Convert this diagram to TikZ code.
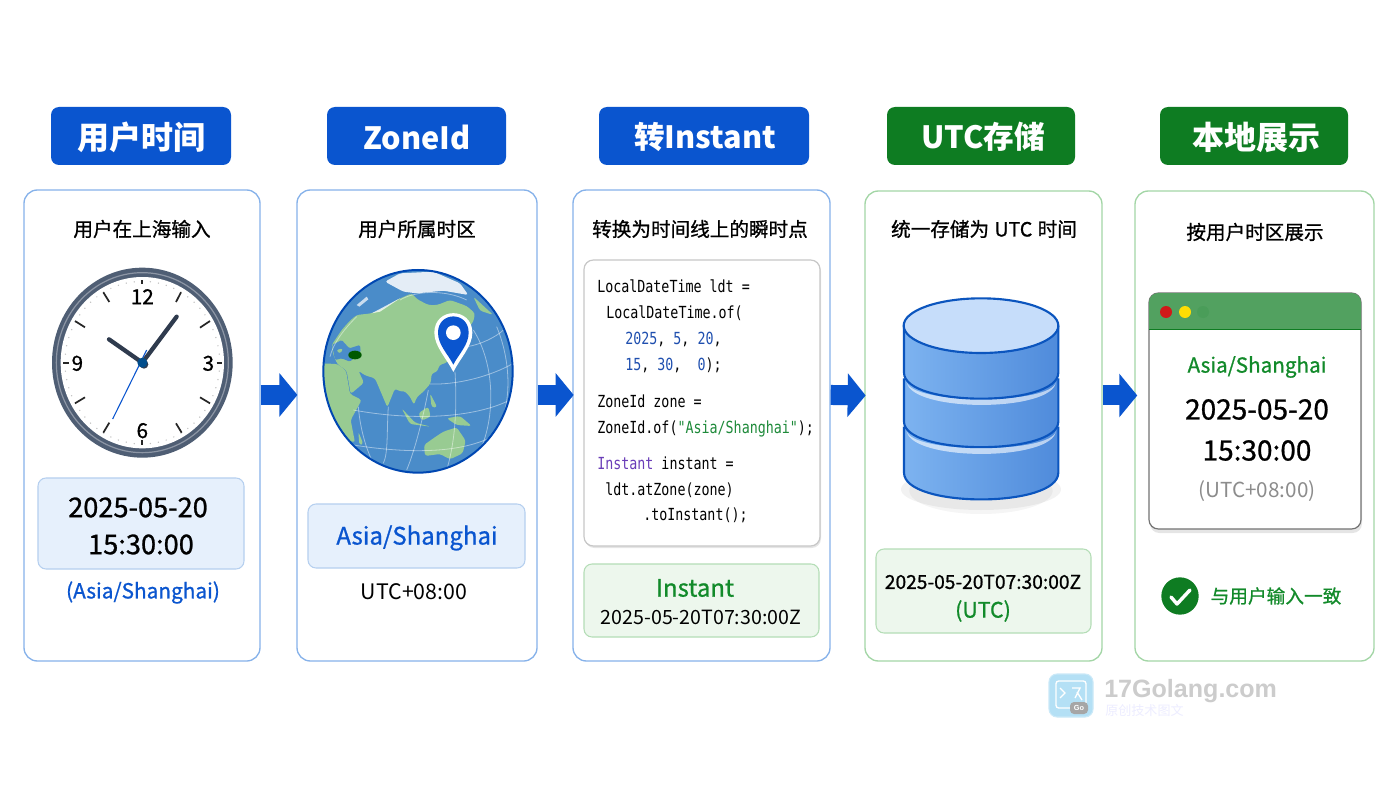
\documentclass[tikz,border=0pt]{standalone}
\usepackage{fontspec}
\setmainfont{Noto Sans CJK SC}
\newfontfamily\medfont[FakeBold=.9]{Noto Sans CJK SC}
\newfontfamily\codefont[FakeStretch=.8]{DejaVu Sans Mono}
\newfontfamily\wmfont{Liberation Sans}
\usetikzlibrary{arrows.meta,fit,shapes.geometric}
\newcommand\fz[1]{\fontsize{#1}{#1}\selectfont}
\definecolor{hblue}{HTML}{0A55CF}
\definecolor{hgreen}{HTML}{0E7C22}
\definecolor{pblue}{HTML}{86B2EA}
\definecolor{pgreen}{HTML}{A3D6A6}
\definecolor{tintb}{HTML}{E6F0FC}
\definecolor{tintbb}{HTML}{B5CFEF}
\definecolor{tintg}{HTML}{EDF7ED}
\definecolor{tintgb}{HTML}{B4DDB6}
\definecolor{ocean}{HTML}{4A8CC9}
\definecolor{land}{HTML}{98CB92}
\definecolor{ring}{HTML}{4F5E74}
\definecolor{handc}{HTML}{2F3B4E}
\definecolor{codeblue}{HTML}{1F4FAF}
\definecolor{codepur}{HTML}{6A3DB8}
\definecolor{codegrn}{HTML}{1E8A3A}
\definecolor{txtgreen}{HTML}{128A2A}
\definecolor{dbleft}{HTML}{7DB3F0}
\definecolor{dbmid}{HTML}{6BA4EA}
\definecolor{dbright}{HTML}{4F8BDB}
\definecolor{dbtop}{HTML}{C6DDFA}
\definecolor{dbline}{HTML}{0B55BE}
\definecolor{wmfill}{HTML}{B4E0F5}
\definecolor{wmedge}{HTML}{CBE9F8}
\tikzset{
  headbl/.style={rectangle,rounded corners=6pt,fill=hblue,inner sep=0pt},
  headgr/.style={rectangle,rounded corners=6pt,fill=hgreen,inner sep=0pt},
  headtxt/.style={inner sep=0pt,text=white,font=\bfseries\fz{24}},
  headlat/.style={inner sep=0pt,text=white,font=\bfseries\fz{23}},
  panelbl/.style={rectangle,rounded corners=10pt,draw=pblue,line width=1pt,fill=white,inner sep=0pt},
  panelgr/.style={rectangle,rounded corners=10pt,draw=pgreen,line width=1pt,fill=white,inner sep=0pt},
  tintboxb/.style={rectangle,rounded corners=6pt,draw=tintbb,line width=.8pt,fill=tintb,inner sep=0pt},
  tintboxg/.style={rectangle,rounded corners=6pt,draw=tintgb,line width=.8pt,fill=tintg,inner sep=0pt},
  flowarrow/.style={draw=hblue,line width=15pt,-{Triangle[length=13.5pt,width=32pt,fill=hblue]}},
  captxt/.style={inner sep=0pt,font=\medfont\fz{14.7}},
  codeln/.style={inner sep=0pt,anchor=base west,font=\codefont\fz{12.5}},
  landp/.style={fill=land,rounded corners=2pt},
  gridl/.style={draw=white,opacity=.45,line width=.6pt},
  dbbody/.style={left color=dbleft,middle color=dbmid,right color=dbright},
  dbedge/.style={draw=dbline,line width=1.6pt},
  zoomone/.style={shift={(20,240)},x=.25pt,y=-.25pt},
  zoomtwo/.style={shift={(300,250)},x=.25pt,y=-.25pt},
  zoomfour/.style={shift={(880,280)},x=.25pt,y=-.25pt},
}
\begin{document}
\begin{tikzpicture}[x=.75pt,y=-.75pt]
\useasboundingbox (0,0) rectangle (1400,788);
\fill[white] (0,0) rectangle (1400,788);

% headers
\node[headbl,fit={(51,107)(231,165)}] (h1) {};
\node[headbl,fit={(327,107)(506,165)}] (h2) {};
\node[headbl,fit={(599,107)(809,165)}] (h3) {};
\node[headgr,fit={(887,107)(1075,165)}] (h4) {};
\node[headgr,fit={(1160,107)(1348,165)}] (h5) {};
\node[headtxt] (h1t) at (141,137) {用户时间};
\node[headlat] (h2t) at (417,137) {ZoneId};
\node[headlat] (h3t) at (705,137) {转Instant};
\node[headlat] (h4t) at (983,137) {UTC存储};
\node[headtxt] (h5t) at (1256,137) {本地展示};

% panels
\node[panelbl,fit={(24,190)(260,661)}] (p1) {};
\node[panelbl,fit={(297,190)(537,661)}] (p2) {};
\node[panelbl,fit={(573,190)(830,661)}] (p3) {};
\node[panelgr,fit={(865,191)(1102,661)}] (p4) {};
\node[panelgr,fit={(1135,191)(1374,661)}] (p5) {};
\node[captxt] (c1) at (142,229) {用户在上海输入};
\node[captxt] (c2) at (417,229) {用户所属时区};
\node[captxt] (c3) at (700,229) {转换为时间线上的瞬时点};
\node[captxt] (c4) at (984,229) {统一存储为\hspace{4pt}UTC\hspace{4pt}时间};
\node[captxt] (c5) at (1255,232) {按用户时区展示};

% connectors
\draw[flowarrow] ([yshift=22.9pt]p1.east) -- ([yshift=22.9pt,xshift=.8pt]p2.west);
\draw[flowarrow] ([yshift=22.9pt]p2.east) -- ([yshift=22.9pt,xshift=1pt]p3.west);
\draw[flowarrow] ([yshift=22.9pt]p3.east) -- ([yshift=22.9pt,xshift=1pt]p4.west);
\draw[flowarrow] ([yshift=22.9pt]p4.east) -- ([yshift=22.9pt,xshift=2.2pt]p5.west);

% clock
\begin{scope}[zoomone]
  \fill[ring] (367,368) ellipse [x radius=271,y radius=285];
  \draw[ring!65!white,line width=.9pt] (367,368) ellipse [x radius=258,y radius=270];
  \fill[white] (367,368) ellipse [x radius=245,y radius=257];
  \foreach \a in {0,6,...,354} {
    \fill[gray!50] ({367+232*cos(\a)},{368+244*sin(\a)}) circle [radius=2.2];
  }
  \foreach \xa/\ya/\xb/\yb in {483/157/468/186,570/243/540/263,540/472/570/490,468/550/485/578,268/548/250/578,195/472/165/490,195/262/165/243,268/186/250/157,367/120/367/133,367/600/367/614,590/368/605/368,130/368/147/368} {
    \draw[black!85,line width=1.3pt] (\xa,\ya) -- (\xb,\yb);
  }
  \node[inner sep=0pt,font=\medfont\fz{15.5}] (n12) at (367,170) {12};
  \node[inner sep=0pt,font=\medfont\fz{15.5}] (n3) at (565,370) {3};
  \node[inner sep=0pt,font=\medfont\fz{15.5}] (n9) at (172,370) {9};
  \node[inner sep=0pt,font=\medfont\fz{15.5}] (n6) at (367,572) {6};
  \draw[hblue,line width=.8pt] (380,330) -- (278,537);
  \draw[handc,line width=3.2pt,line cap=round] (367,368) -- (267,298);
  \draw[handc,line width=3.2pt,line cap=round] (367,368) -- (470,230);
  \fill[handc] (372,373) circle [radius=13];
  \fill[blue!45!cyan!55!black] (367,368) circle [radius=15];
\end{scope}

\node[tintboxb,fit={(38,478)(244,569)}] (b1) {};
\node[inner sep=0pt,font=\medfont\fz{20.4}] (b1a) at (138,507.5) {2025-05-20};
\node[inner sep=0pt,font=\medfont\fz{20.4}] (b1b) at (141,544.5) {15:30:00};
\node[inner sep=0pt,font=\medfont\fz{15.6},text=hblue] (b1c) at (143,592.5) {(Asia/Shanghai)};

% globe
\begin{scope}[zoomtwo]
  \fill[ocean] (354,364) ellipse [x radius=284,y radius=304];
  \begin{scope}
    \clip (354,364) ellipse [x radius=284,y radius=304];
    \path[landp] (95,285) -- (125,240) -- (150,212) -- (170,195) -- (215,190) -- (250,175) -- (290,150) -- (335,130) -- (352,148) -- (385,165) -- (412,165) -- (450,150) -- (500,168) -- (525,190) -- (520,215) -- (500,240) -- (470,300) -- (440,338) -- (418,345) -- (412,365) -- (395,370) -- (392,400) -- (370,425) -- (350,442) -- (342,465) -- (330,440) -- (312,422) -- (300,425) -- (285,415) -- (262,472) -- (240,420) -- (225,385) -- (195,376) -- (175,362) -- (192,398) -- (152,432) -- (140,362) -- (112,342) -- (100,315) -- cycle;
    \path[landp] (60,340) -- (112,342) -- (138,362) -- (150,432) -- (185,450) -- (152,510) -- (165,578) -- (130,565) -- (90,485) -- (60,400) -- cycle;
    \path[landp] (175,545) -- (190,582) -- (178,585) -- cycle;
    \path[landp] (372,585) -- (400,565) -- (430,545) -- (470,532) -- (497,572) -- (488,610) -- (450,628) -- (420,612) -- (375,618) -- cycle;
    \path[landp] (305,475) -- (345,518) -- (392,530) -- (330,522) -- cycle;
    \path[landp] (355,490) -- (385,470) -- (392,500) -- (365,512) -- cycle;
    \path[landp] (440,505) -- (480,498) -- (515,528) -- (470,525) -- cycle;
    \path[landp] (390,430) -- (412,472) -- (395,472) -- cycle;
    \path[landp] (520,140) -- (580,195) -- (540,182) -- cycle;
    \path[fill=ocean,rounded corners=1pt] (96,285) -- (125,270) -- (148,295) -- (180,285) -- (182,305) -- (150,335) -- (125,325) -- (105,330) -- cycle;
    \path[landp] (108,300) -- (130,295) -- (120,312) -- cycle;
    \fill[green!35!black] (165,315) ellipse [x radius=20,y radius=13];
    \path[fill=white,opacity=.85,rounded corners=2pt] (255,95) -- (300,70) -- (400,65) -- (480,100) -- (505,135) -- (430,122) -- (350,130) -- (310,125) -- cycle;
    \path[fill=white,opacity=.75] (215,190) -- (290,150) -- (300,145) -- (240,185) -- cycle;
    \path[fill=white,opacity=.7] (170,165) -- (200,140) -- (205,148) -- (178,170) -- cycle;
    \draw[gridl] (390,402) .. controls (470,405) and (570,380) .. (640,340);
    \draw[gridl] (500,290) .. controls (540,285) and (590,260) .. (610,240);
    \draw[gridl] (160,480) .. controls (320,510) and (520,510) .. (640,445);
    \draw[gridl] (130,580) .. controls (300,610) and (500,620) .. (610,540);
    \draw[gridl] (465,365) .. controls (470,450) and (470,560) .. (440,660);
    \draw[gridl] (520,240) .. controls (590,350) and (590,530) .. (520,640);
    \draw[gridl] (590,230) .. controls (640,350) and (630,480) .. (590,540);
    \draw[gridl] (385,420) .. controls (370,500) and (345,600) .. (320,660);
    \draw[gridl] (265,470) .. controls (260,540) and (265,610) .. (250,640);
    \draw[gridl] (175,470) .. controls (180,530) and (195,590) .. (220,640);
    \draw[gridl] (300,150) .. controls (350,120) and (440,120) .. (500,150);
    \draw[gridl] (170,200) .. controls (130,240) and (100,280) .. (90,320);
  \end{scope}
  \draw[blue!60!cyan!70!black,line width=1.5pt] (354,364) ellipse [x radius=284,y radius=304];
  \fill[white] (460,366) .. controls (440,325) and (403,290) .. (403,248) .. controls (403,170) and (517,170) .. (517,248) .. controls (517,290) and (480,325) .. (460,366) -- cycle;
  \fill[hblue] (460,344) .. controls (444,312) and (414,285) .. (414,248) .. controls (414,183) and (506,183) .. (506,248) .. controls (506,285) and (476,312) .. (460,344) -- cycle;
  \fill[white] (460,248) circle [radius=22];
\end{scope}

\node[tintboxb,fit={(308,504)(525,568)}] (b2) {};
\node[inner sep=0pt,font=\medfont\fz{18},text=hblue] (b2a) at (417,538) {Asia/Shanghai};
\node[inner sep=0pt,font=\fz{16}] (b2b) at (414,592) {UTC+08:00};

% code card
\fill[black,opacity=.1,rounded corners=7pt] (585,262) rectangle (821,548);
\node[rectangle,rounded corners=7pt,draw=black!22,line width=.9pt,fill=white,inner sep=0pt,fit={(584,260)(820,546)}] (code) {};
\node[codeln] (l1) at (597,292.5) {LocalDateTime ldt =};
\node[codeln] (l2) at (606,318.5) {LocalDateTime.of(};
\node[codeln] (l3) at (625,344.5) {\textcolor{codeblue}{2025}, \textcolor{codeblue}{5}, \textcolor{codeblue}{20},};
\node[codeln] (l4) at (625,370.5) {\textcolor{codeblue}{15}, \textcolor{codeblue}{30},\ \ \textcolor{codeblue}{0});};
\node[codeln] (l5) at (597,407.5) {ZoneId zone =};
\node[codeln] (l6) at (597,433) {ZoneId.of(\textcolor{codegrn}{"Asia/Shanghai"});};
\node[codeln] (l7) at (597,469) {\textcolor{codepur}{Instant} instant =};
\node[codeln] (l8) at (605,495) {ldt.atZone(zone)};
\node[codeln] (l9) at (643,520) {.toInstant();};

\node[tintboxg,fit={(584,564)(819,637)}] (b3) {};
\node[inner sep=0pt,font=\medfont\fz{18},text=txtgreen] (b3a) at (695,588) {Instant};
\node[inner sep=0pt,font=\fz{14.7}] (b3b) at (701,617) {2025-05-20T07:30:00Z};

% database
\begin{scope}[zoomfour]
  \fill[black,opacity=.05] (303,628) ellipse [x radius=240,y radius=62];
  \fill[black,opacity=.04] (303,632) ellipse [x radius=215,y radius=70];
  % bottom section
  \shade[dbbody] (72,440) -- (72,578) .. controls (72,685) and (535,685) .. (535,578) -- (535,440) -- cycle;
  \draw[dbedge] (72,440) -- (72,578) .. controls (72,685) and (535,685) .. (535,578) -- (535,440);
  \fill[white,opacity=.6] (80,452) .. controls (90,545) and (520,545) .. (528,452) .. controls (520,522) and (90,522) .. (80,452) -- cycle;
  % middle section
  \shade[dbbody] (72,295) -- (72,425) .. controls (72,527) and (535,527) .. (535,425) -- (535,295) -- cycle;
  \draw[dbedge] (72,295) -- (72,425) .. controls (72,527) and (535,527) .. (535,425) -- (535,295);
  \fill[white,opacity=.6] (80,305) .. controls (90,398) and (520,398) .. (528,305) .. controls (520,375) and (90,375) .. (80,305) -- cycle;
  % top section
  \shade[dbbody] (72,137) -- (72,278) .. controls (72,382) and (535,382) .. (535,278) -- (535,137) -- cycle;
  \draw[dbedge] (72,137) -- (72,278) .. controls (72,382) and (535,382) .. (535,278) -- (535,137);
  \draw[dbedge,fill=dbtop] (303,137) ellipse [x radius=232,y radius=82];
\end{scope}

\node[tintboxg,fit={(876,549)(1091,633)}] (b4) {};
\node[inner sep=0pt,font=\medfont\fz{14.4}] (b4a) at (983,582) {2025-05-20T07:30:00Z};
\node[inner sep=0pt,font=\medfont\fz{16},text=txtgreen] (b4b) at (983,611) {(UTC)};

% window
\fill[black,opacity=.1,rounded corners=7pt] (1150,296) rectangle (1362,533);
\node[rectangle,rounded corners=7pt,draw=black!55,line width=.9pt,fill=white,inner sep=0pt,fit={(1149,293)(1361,529)}] (win) {};
\fill[hgreen!72!white] (1149,329) [rounded corners=7pt] -- (1149,293) -- (1361,293) [sharp corners] -- (1361,329) -- cycle;
\draw[hgreen,line width=.7pt] (1149,329) -- (1361,329);
\fill[red!80!black!90!white] (1166,312) circle [radius=4.5pt];
\fill[yellow!80!orange] (1185,312) circle [radius=4.5pt];
\fill[hgreen!75!white] (1203,312) circle [radius=4.5pt];
\node[inner sep=0pt,font=\medfont\fz{15.5},text=txtgreen] (w1) at (1257,367) {Asia/Shanghai};
\node[inner sep=0pt,font=\medfont\fz{21}] (w2) at (1257,409.5) {2025-05-20};
\node[inner sep=0pt,font=\medfont\fz{21}] (w3) at (1257,450.5) {15:30:00};
\node[inner sep=0pt,font=\fz{15.5},text=black!45] (w4) at (1257,491.5) {(UTC+08:00)};
\fill[hgreen] (1180,596) circle [radius=14pt];
\draw[white,line width=2.6pt,line cap=round,line join=round] (1171,597) -- (1177,604) -- (1190,590);
\node[inner sep=0pt,font=\medfont\fz{14},text=txtgreen] (okt) at (1276,596) {与用户输入一致};

% watermark
\node[rectangle,rounded corners=6pt,draw=wmedge,line width=.8pt,fill=wmfill,inner sep=0pt,fit={(1049,674)(1093,717)}] (wm) {};
\draw[white,line width=1pt,rounded corners=2pt] (1056,681) rectangle (1086,708);
\draw[white,line width=1pt] (1060,688) -- (1065,693) -- (1060,698) (1072,688) -- (1080,688) -- (1075,698) (1077,692) -- (1082,700);
\fill[black!35,rounded corners=3pt] (1070,702) rectangle (1088,714);
\node[inner sep=0pt,text=white,font=\wmfont\fz{5.5}\bfseries] (wmg) at (1079,708) {Go};
\node[inner sep=0pt,anchor=west,text=black!20,font=\wmfont\fz{18.8}\bfseries] (wmt) at (1104,691) {17Golang.com};
\node[inner sep=0pt,anchor=west,text=blue!7!white,font=\fz{9.8}] (wms) at (1105,710) {原创技术图文};
\end{tikzpicture}
\end{document}
